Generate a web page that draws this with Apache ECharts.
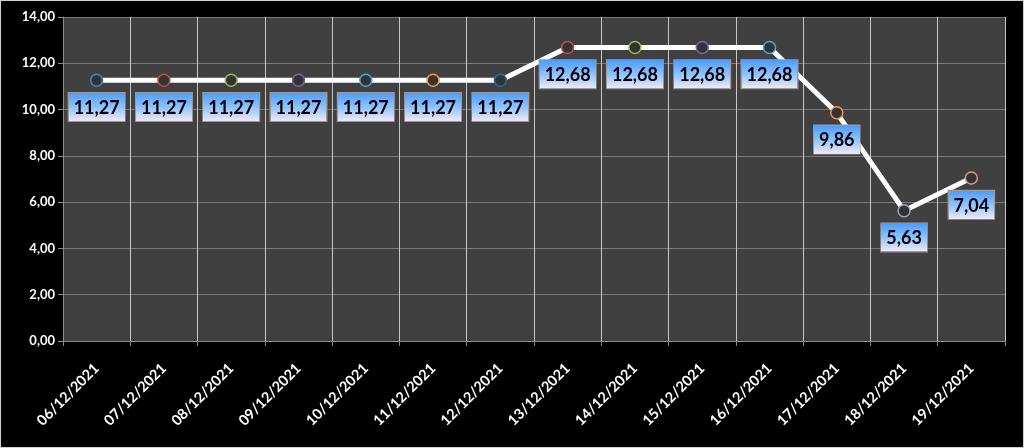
<!DOCTYPE html>
<html>
<head>
<meta charset="utf-8">
<script src="https://cdn.jsdelivr.net/npm/echarts@6/dist/echarts.min.js"></script>
<style>
  html, body { margin: 0; padding: 0; background: #000; }
  #chart { width: 1024px; height: 448px; box-sizing: border-box; border: 1px solid #d0d0d0; }
</style>
</head>
<body>
<div id="chart"></div>
<script>
const dates = ['06/12/2021', '07/12/2021', '08/12/2021', '09/12/2021', '10/12/2021', '11/12/2021', '12/12/2021',
  '13/12/2021', '14/12/2021', '15/12/2021', '16/12/2021', '17/12/2021', '18/12/2021', '19/12/2021']
const values = [11.27, 11.27, 11.27, 11.27, 11.27, 11.27, 11.27, 12.68, 12.68, 12.68, 12.68, 9.86, 5.63, 7.04]
const markerColors = ['#4f81bd', '#c0504d', '#9bbb59', '#8064a2', '#4bacc6', '#f79646', '#2c6aa8',
  '#c0504d', '#9bbb59', '#8064a2', '#4bacc6', '#f79646', '#8fa9d0', '#d99694']

const font = 'Lato, "Open Sans", sans-serif'

// label box fill: vertical gradient drawn on a small canvas, stretched by the label box
const bg = document.createElement('canvas')
bg.width = 4
bg.height = 64
const ctx = bg.getContext('2d')
const grad = ctx.createLinearGradient(0, 0, 0, 64)
grad.addColorStop(0, '#4d9cff')
grad.addColorStop(0.5, '#8ec3ff')
grad.addColorStop(1, '#f2e8f6')
ctx.fillStyle = grad
ctx.fillRect(0, 0, 4, 64)

const myChart = echarts.init(document.getElementById('chart'))

const option = {
  backgroundColor: '#000',
  animation: false,
  grid: { left: 62, right: 18, top: 16, bottom: 106, show: true, backgroundColor: '#404040', borderWidth: 0 },
  xAxis: {
    type: 'category',
    data: dates,
    boundaryGap: true,
    axisLine: { lineStyle: { color: '#8c8c8c', width: 1 } },
    axisTick: { show: true, length: 5, lineStyle: { color: '#8c8c8c' } },
    splitLine: { show: true, lineStyle: { color: '#c8c8c8', width: 1 } },
    axisLabel: { color: '#fff', fontFamily: font, fontWeight: 'bold', fontSize: 14.5, rotate: 45, margin: 25, interval: 0 }
  },
  yAxis: {
    type: 'value',
    min: 0,
    max: 14,
    interval: 2,
    axisLine: { show: true, lineStyle: { color: '#8c8c8c' } },
    axisTick: { show: true, length: 5, lineStyle: { color: '#8c8c8c' } },
    splitLine: { lineStyle: { color: '#7a7a7a', width: 1 } },
    axisLabel: {
      color: '#fff', fontFamily: font, fontWeight: 'bold', fontSize: 13, margin: 8,
      formatter: v => v.toFixed(2).replace('.', ',')
    }
  },
  series: [{
    type: 'line',
    data: values.map((v, i) => ({ value: v, itemStyle: { borderColor: markerColors[i] } })),
    symbol: 'circle',
    symbolSize: 12,
    lineStyle: { color: '#fff', width: 5 },
    itemStyle: { color: '#333', borderWidth: 1.5 },
    z: 3,
    label: {
      show: true,
      position: 'bottom',
      distance: 6,
      formatter: p => p.value.toFixed(2).replace('.', ','),
      color: '#000',
      fontFamily: font,
      fontWeight: 'bold',
      fontSize: 18,
      padding: [6, 5, 4, 5],
      borderColor: '#9a9a9a',
      borderWidth: 2,
      backgroundColor: { image: bg }
    }
  }]
}
myChart.setOption(option)
</script>
</body>
</html>
